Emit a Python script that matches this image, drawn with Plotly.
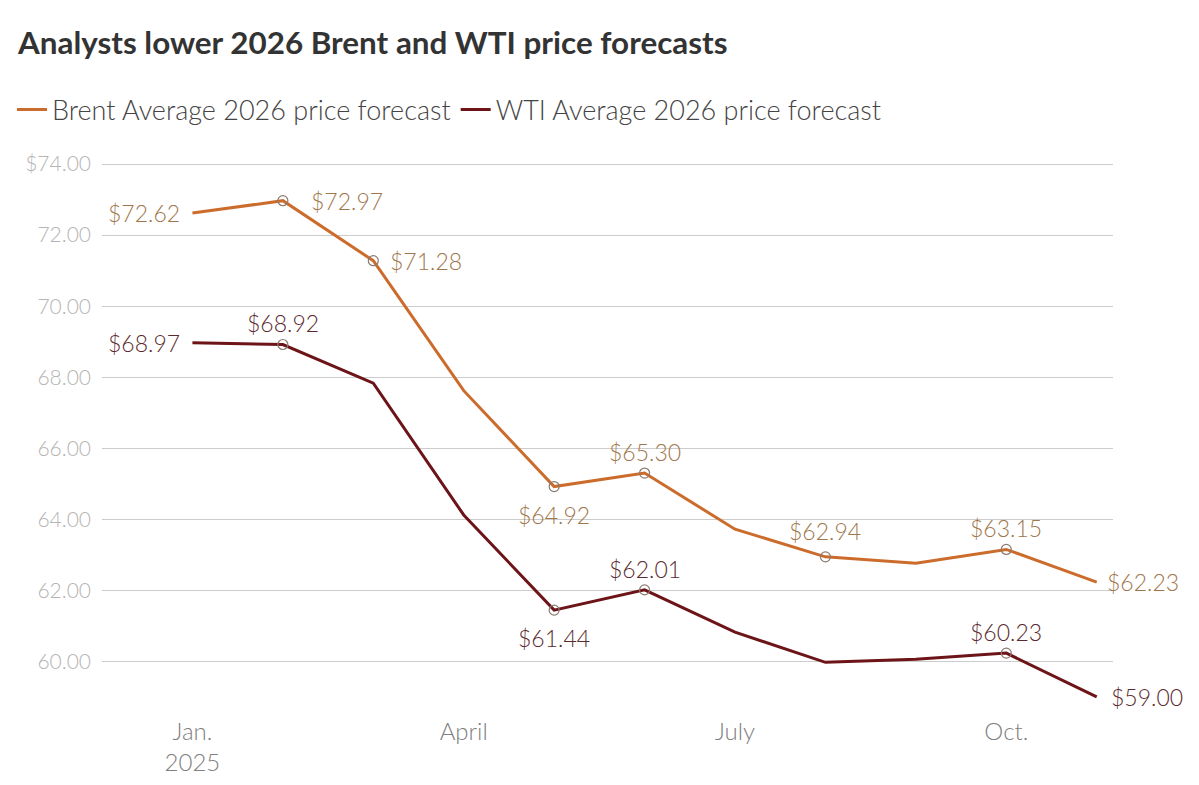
import plotly.graph_objects as go

months = ["Jan", "Feb", "Mar", "Apr", "May", "Jun", "Jul", "Aug", "Sep", "Oct", "Nov"]
brent = [72.62, 72.97, 71.28, 67.62, 64.92, 65.30, 63.72, 62.94, 62.76, 63.15, 62.23]
wti = [68.97, 68.92, 67.83, 64.12, 61.44, 62.01, 60.82, 59.97, 60.06, 60.23, 59.00]
xtick_idx = [0, 3, 6, 9]
xtick_text = ["Jan.<br>2025", "April", "July", "Oct."]
ytick_vals = [60, 62, 64, 66, 68, 70, 72, 74]
ytick_text = ["60.00", "62.00", "64.00", "66.00", "68.00", "70.00", "72.00", "$74.00"]

# label placement (style): index -> (side, offset px)
brent_labels = {0: ("left", 10), 1: ("right", 26), 2: ("right", 15), 4: ("below", 28),
                5: ("above", 21), 7: ("above", 26), 9: ("above", 21), 10: ("right", 8)}
wti_labels = {0: ("left", 10), 1: ("above", 22), 4: ("below", 28), 5: ("above", 21),
              9: ("above", 21), 10: ("right", 12)}
brent_markers = [1, 2, 4, 5, 7, 9]
wti_markers = [1, 4, 5, 9]

BRENT = "#cc6c2c"
WTI = "#6d1418"
BRENT_TXT = "#a0764c"
WTI_TXT = "#5a2a2e"
FONT = "Lato"

x = list(range(len(months)))
fig = go.Figure()
for name, vals, col, mk in [("Brent Average 2026 price forecast", brent, BRENT, brent_markers),
                            ("WTI Average 2026 price forecast", wti, WTI, wti_markers)]:
    fig.add_trace(go.Scatter(x=x, y=vals, mode="lines", name=name,
                             line=dict(color=col, width=3), hoverinfo="skip"))
    fig.add_trace(go.Scatter(x=[x[i] for i in mk], y=[vals[i] for i in mk], mode="markers",
                             showlegend=False, hoverinfo="skip",
                             marker=dict(symbol="circle-open", size=10,
                                         color="#8a7a70", line=dict(width=1.2, color="#8a7a70"))))

for vals, labels, tc in [(brent, brent_labels, BRENT_TXT), (wti, wti_labels, WTI_TXT)]:
    for i, (side, off) in labels.items():
        a = dict(x=x[i], y=vals[i], text="$%.2f" % vals[i], showarrow=False,
                 font=dict(family=FONT, size=23, color=tc, weight=300))
        if side == "left":
            a.update(xanchor="right", yanchor="middle", xshift=-off)
        elif side == "right":
            a.update(xanchor="left", yanchor="middle", xshift=off)
        elif side == "above":
            a.update(xanchor="center", yanchor="middle", yshift=off)
        else:
            a.update(xanchor="center", yanchor="middle", yshift=-off)
        fig.add_annotation(**a)

# the page body adds an 8px offset; margins compensate
fig.update_layout(
    width=1199, height=785,
    paper_bgcolor="white", plot_bgcolor="white",
    margin=dict(l=94, r=94, t=149, b=82),
    title=dict(text="<b>Analysts lower 2026 Brent and WTI price forecasts</b>",
               x=10 / 1199, xref="container", xanchor="left",
               y=1 - 35 / 785, yref="container", yanchor="middle",
               font=dict(family=FONT, size=31.4, color="#333333")),
    showlegend=True,
    legend=dict(orientation="h", x=4 / 1199, xref="container", xanchor="left",
                y=1 - 102 / 785, yref="container", yanchor="middle",
                font=dict(family=FONT, size=27, color="#444444", weight=300),
                itemwidth=30, tracegroupgap=0, traceorder="normal"),
    xaxis=dict(range=[-1.0, 10.18], tickvals=xtick_idx, ticktext=xtick_text,
               showgrid=False, zeroline=False, showline=False, ticks="",
               tickfont=dict(family=FONT, size=24, color="#808080", weight=300),
               ticklabelstandoff=4),
    yaxis=dict(range=[58.6, 74.2], tickvals=ytick_vals, ticktext=ytick_text,
               showgrid=True, gridcolor="#cccccc", gridwidth=1.2, zeroline=False,
               showline=False, ticks="",
               tickfont=dict(family=FONT, size=21, color="#b4b4b4", weight=300),
               ticklabelstandoff=10),
)
fig.write_html("out.html")
